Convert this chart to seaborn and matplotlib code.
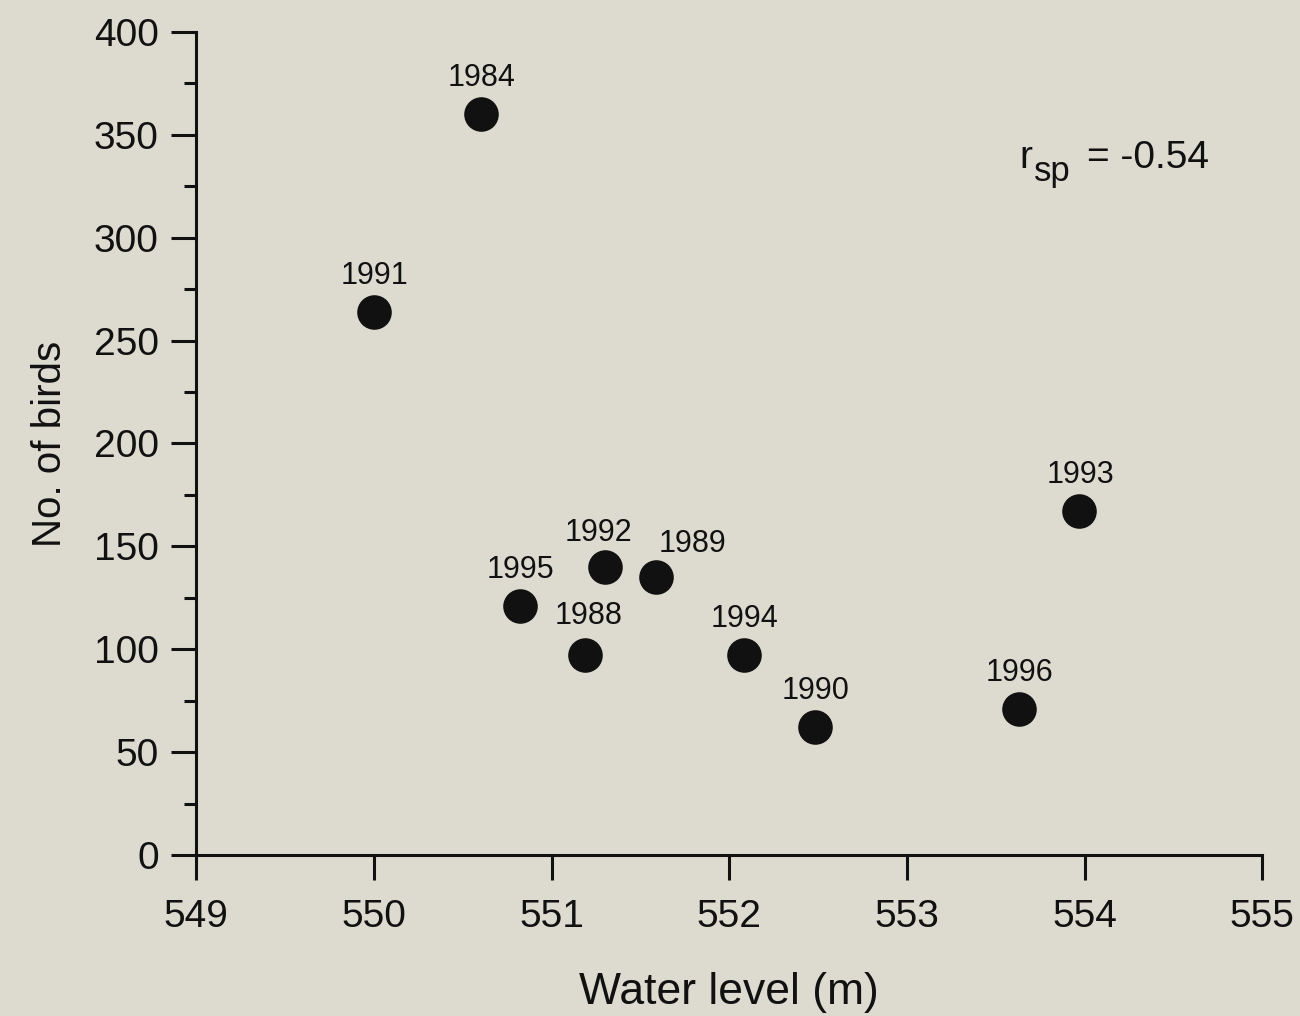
import matplotlib
matplotlib.use("Agg")
import matplotlib.pyplot as plt
import seaborn as sns
import pandas as pd
from matplotlib.ticker import MultipleLocator

# data
years = ["1984", "1991", "1995", "1988", "1992", "1989", "1994", "1990", "1996", "1993"]
water_level = [550.60, 550.00, 550.82, 551.19, 551.30, 551.59, 552.08, 552.48, 553.63, 553.97]
n_birds = [360, 264, 121, 97, 140, 135, 97, 62, 71, 167]

df = pd.DataFrame({"year": years, "level": water_level, "birds": n_birds})

BG = "#dddbd0"
INK = "#111111"
PX = 1.389  # pixels per point at dpi 100

sns.set_theme(style="ticks")
plt.rcParams["font.family"] = ["Liberation Sans", "DejaVu Sans"]

fig = plt.figure(figsize=(13, 10.16), dpi=100, facecolor=BG)
ax = fig.add_axes([0.151, 0.1585, 0.820, 0.810])
ax.set_facecolor(BG)

sns.scatterplot(data=df, x="level", y="birds", ax=ax, s=620,
                color=INK, edgecolor=INK, linewidth=0, legend=False, zorder=3)

# label offsets in pixels (dx, dy) - default is straight above
offsets = {"1989": (36, 33), "1992": (-6, 34), "1988": (3, 39)}
for _, row in df.iterrows():
    dx, dy = offsets.get(row["year"], (1, 36))
    ax.annotate(row["year"], (row["level"], row["birds"]),
                xytext=(dx / PX, dy / PX), textcoords="offset points",
                ha="center", va="center", fontsize=22, color=INK)

# r_sp annotation built from pieces so the subscript stays large
anchor = (553.63, 334)
ax.annotate("r", anchor, ha="left", va="baseline", fontsize=28, color=INK)
ax.annotate("sp", anchor, xytext=(15 / PX, -13 / PX), textcoords="offset points",
            ha="left", va="baseline", fontsize=25, color=INK)
ax.annotate("= -0.54", anchor, xytext=(68 / PX, 0), textcoords="offset points",
            ha="left", va="baseline", fontsize=28, color=INK)

ax.set_xlim(549, 555)
ax.set_ylim(0, 400)
ax.set_xticks(range(549, 556))
ax.yaxis.set_major_locator(MultipleLocator(50))
ax.yaxis.set_minor_locator(MultipleLocator(25))

sns.despine(ax=ax)
for side in ["left", "bottom"]:
    ax.spines[side].set_linewidth(2.2)
    ax.spines[side].set_color(INK)

ax.tick_params(axis="both", which="major", length=18, width=2.2,
               labelsize=28, colors=INK, pad=9)
ax.tick_params(axis="x", which="major", pad=14)
ax.tick_params(axis="y", which="minor", length=9, width=2.2, colors=INK)

ax.set_xlabel("Water level (m)", fontsize=32, color=INK, labelpad=26)
ax.set_ylabel("No. of birds", fontsize=29, color=INK, labelpad=18)

fig.savefig("out.png", dpi=100, facecolor=BG)
